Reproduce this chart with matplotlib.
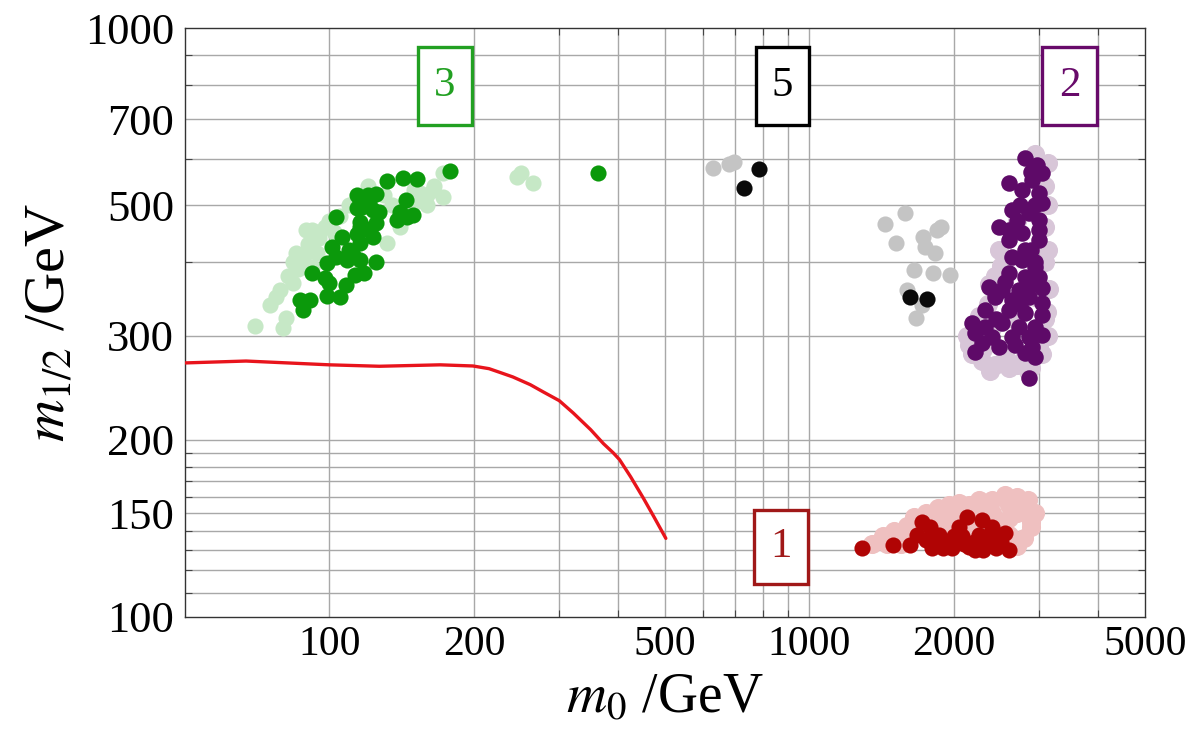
import matplotlib
matplotlib.use("Agg")
import matplotlib.pyplot as plt
from matplotlib.ticker import FixedLocator, NullFormatter, FuncFormatter
from matplotlib.patches import Rectangle

plt.rcParams['mathtext.fontset'] = 'stix'
plt.rcParams['font.family'] = ['Liberation Serif', 'DejaVu Serif']

# ---------------- data ----------------
# exclusion curve
line_m0 = [50, 67, 100, 127, 170, 199, 215, 227, 241, 262, 279, 301, 322, 350, 372, 390,
           402, 424, 451, 474, 502]
line_m12 = [270, 272, 268, 266.5, 268, 266.8, 264, 260, 255.6, 248, 241, 233, 222, 208,
            197, 190, 185, 173, 159, 148, 136]

# region 3 (green)
g_dark_m0 = [178, 132, 142, 152, 362,
             114, 120, 125, 116, 117, 123, 127, 114,
             144, 140, 149, 138, 145,
             103, 116, 125, 116,
             106, 114, 123, 101, 116,
             103, 112, 116, 125, 99, 109,
             92, 98, 100, 113, 118, 108,
             99, 105, 87, 91, 88, 119, 121, 110]
g_dark_m12 = [571, 550, 557, 555, 567,
              520, 520, 522, 510, 496, 491, 488, 495,
              510, 488, 482, 472, 478,
              478, 469, 467, 459,
              441, 447, 442, 425, 431,
              409, 412, 404, 401, 399, 404,
              384, 377, 369, 381, 384, 366,
              351, 349, 345, 345, 332, 455, 505, 420]
g_light_m0 = [70, 80, 81, 75, 77.5, 79, 84, 85, 89.5, 92, 95, 89.5, 94, 92, 92,
              154, 164, 172, 156, 132, 140, 172, 246, 266, 250,
              88, 95, 100, 105, 110, 130, 135, 150, 160, 120, 82, 86, 145, 165,
              160, 150, 98, 90, 84, 102]
g_light_m12 = [312, 310, 322, 339, 349, 359, 369, 415, 454, 454, 451, 415, 415, 437, 393,
               525, 531, 516, 510, 431, 459, 567, 558, 546, 568,
               400, 440, 470, 480, 500, 520, 500, 505, 520, 540, 380, 390, 495, 540,
               500, 530, 460, 430, 400, 450]

# region 5 (black / gray)
k_dark_m0 = [786, 731, 1620, 1757]
k_dark_m12 = [577, 535, 349, 346]
k_light_m0 = [630, 680, 697, 1581, 1435, 1513, 1722, 1845, 1876, 1740, 1827, 1650,
              1812, 1964, 1596, 1715, 1667]
k_light_m12 = [578, 588, 592, 485, 465, 431, 442, 454, 459, 424, 415, 388,
               384, 381, 359, 339, 322]

# region 2 (purple)
p_dark_m0 = [2818, 2985, 3055, 2912, 2608, 2778, 3013, 3055, 2647, 2872, 3013, 2483,
             2608, 2778, 3013, 2608, 3013, 2818, 2647, 2778, 2956, 2608, 2818, 3013,
             2366, 2522, 2737, 3055, 2437, 2647, 2872, 3055, 2323, 2608, 2818, 3055,
             2182, 2323, 2522, 2737, 2956, 2213, 2402, 2647, 2872, 3055, 2290, 2483,
             2686, 2912, 2213, 2818, 2956, 2872,
             2900, 2950, 2750, 2900, 2700, 2950, 2850, 2750, 2550, 2450]
p_dark_m12 = [601, 585, 567, 552, 546, 531, 525, 505, 491, 485, 472, 459,
              454, 449, 454, 437, 437, 420, 409, 404, 393, 384, 378, 378,
              363, 359, 359, 362, 349, 345, 349, 341, 332, 332, 328, 326,
              316, 311, 316, 311, 311, 304, 299, 299, 299, 301, 292, 287,
              290, 287, 282, 281, 276, 255,
              570, 500, 500, 420, 470, 400, 365, 340, 370, 320]
p_light_m0 = [3133, 3133, 3133, 3162, 3100, 2483, 2437, 2366, 2131, 2182, 2290, 2437,
              2608, 2778, 3055, 3133, 2300, 2550, 2700, 2900, 3000, 2400, 2200, 2650,
              2950, 3100, 3100, 3100, 2950, 2700, 2500, 2350, 2250, 2150, 2380, 2600,
              2850, 3120]
p_light_m12 = [590, 500, 420, 360, 320, 420, 380, 368, 300, 280, 272, 268,
               265, 272, 280, 300, 285, 278, 268, 265, 290, 310, 295, 320,
               350, 400, 460, 540, 610, 470, 395, 340, 325, 290, 262, 270,
               262, 330]

# region 1 (red)
r_dark_m0 = [1284, 1492, 1619, 1674, 1715, 1782, 1800, 1862, 1954, 2049, 2080, 2131,
             2151, 2290, 2257, 2369, 2403, 2485, 2558, 2608, 1982, 2214,
             1750, 1900, 2000, 2200, 2350, 2450, 2500, 1850, 2100, 2300]
r_dark_m12 = [131, 132.5, 132.5, 138, 145, 142, 131, 138, 134, 142, 137, 148,
              131.5, 146, 138, 132.5, 142, 136, 139, 130, 131, 130,
              135, 131, 137, 134, 137, 131, 134, 133, 133, 130]
r_light_m0 = [1350, 1420, 1500, 1600, 1650, 1750, 1850, 1950, 2050, 2150, 2250, 2400,
              2550, 2700, 2850, 2950, 2900, 2800, 2700, 2600, 2500, 2400, 2300, 2200,
              2100, 2000, 1900, 1800, 1700, 1600, 1550, 1450, 2700, 2800, 2600, 2350,
              2200, 2000, 1850, 2900, 2600]
r_light_m12 = [133, 137, 140, 143, 148, 150, 153, 155, 156, 155, 158, 158,
               161, 160, 158, 150, 142, 136, 132, 138, 145, 150, 152, 148,
               150, 148, 145, 146, 140, 136, 133, 133, 150, 152, 155, 143,
               140, 141, 140, 145, 147]

box_labels = ['3', '5', '2', '1']
x_major = [100, 200, 500, 1000, 2000, 5000]
y_major = [100, 150, 200, 300, 500, 700, 1000]
x_grid = [100, 200, 300, 400, 500, 600, 700, 800, 900, 1000, 2000, 3000, 4000]
y_grid = [110, 120, 130, 140, 150, 160, 170, 180, 190, 200,
          300, 400, 500, 600, 700, 800, 900]

# ---------------- figure ----------------
fig = plt.figure(figsize=(11.97, 7.42), dpi=100)
ax = fig.add_axes([185/1197, 1 - 617/742, 960/1197, 589/742])
ax.set_xscale('log')
ax.set_yscale('log')
ax.set_xlim(50, 5000)
ax.set_ylim(100, 1000)

ax.xaxis.set_major_locator(FixedLocator(x_major))
ax.yaxis.set_major_locator(FixedLocator(y_major))
ax.xaxis.set_minor_locator(FixedLocator(x_grid))
ax.yaxis.set_minor_locator(FixedLocator(y_grid))
fmt = FuncFormatter(lambda v, p: f"{int(round(v))}")
ax.xaxis.set_major_formatter(fmt)
ax.yaxis.set_major_formatter(fmt)
ax.xaxis.set_minor_formatter(NullFormatter())
ax.yaxis.set_minor_formatter(NullFormatter())

for v in x_grid:
    ax.axvline(v, color='#a8a8a8', lw=1.0, zorder=0.5)
for v in y_grid:
    ax.axhline(v, color='#a8a8a8', lw=1.0, zorder=0.5)
ax.tick_params(which='both', direction='in', top=True, right=True,
               length=5, width=0.8, color='#444444')
ax.tick_params(axis='x', which='major', labelsize=30, pad=6, length=0)
ax.tick_params(axis='y', which='major', labelsize=32, pad=8, length=0)
for s in ax.spines.values():
    s.set_color('#333333')
    s.set_linewidth(1.0)

ms = 135
ax.scatter(g_light_m0, g_light_m12, s=ms, color='#c6e8c6', lw=0, zorder=2)
ax.scatter(k_light_m0, k_light_m12, s=ms, color='#c4c4c4', lw=0, zorder=2)
ax.scatter(p_light_m0, p_light_m12, s=ms*1.4, color='#d8c6d8', lw=0, zorder=2)
ax.scatter(r_light_m0, r_light_m12, s=ms*1.4, color='#efc0c0', lw=0, zorder=2)

ax.scatter(g_dark_m0, g_dark_m12, s=ms, color='#0b990b', lw=0, zorder=3)
ax.scatter(k_dark_m0, k_dark_m12, s=ms, color='#0a0a0a', lw=0, zorder=3)
ax.scatter(p_dark_m0, p_dark_m12, s=ms*1.05, color='#5e0a68', lw=0, zorder=3)
ax.scatter(r_dark_m0, r_dark_m12, s=ms, color='#b00404', lw=0, zorder=3)

ax.plot(line_m0, line_m12, color='#e8141c', lw=2.4, zorder=4,
        solid_capstyle='round', solid_joinstyle='round')

# label boxes (axes-fraction layout)
box_geom = [(0.2427, 0.8353, 0.0563, 0.1324),
            (0.5948, 0.8353, 0.0552, 0.1324),
            (0.8927, 0.8353, 0.0573, 0.1324),
            (0.5927, 0.0560, 0.0563, 0.1256)]
box_cols = ['#22a022', '#000000', '#680a6a', '#a01818']
for lab, (bx, by, bw, bh), c in zip(box_labels, box_geom, box_cols):
    ax.add_patch(Rectangle((bx, by), bw, bh, transform=ax.transAxes, fill=True,
                           facecolor='white', edgecolor=c, lw=2.4, zorder=5))
    ax.text(bx + bw/2, by + bh/2, lab, transform=ax.transAxes, ha='center',
            va='center', fontsize=31, color=c, zorder=6)

ax.set_xlabel(r'$m_0$ /GeV', fontsize=40, labelpad=6)
ax.set_ylabel(r'$m_{1/2}$ /GeV', fontsize=42, labelpad=6)

fig.savefig('out.png', dpi=100)
